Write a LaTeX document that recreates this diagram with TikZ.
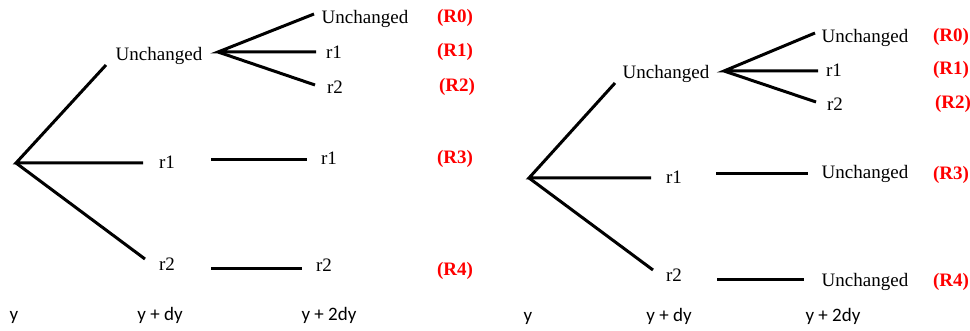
\documentclass[tikz,border=0pt]{standalone}
\usepackage{fontspec}
\setmainfont{Liberation Serif}
\newfontfamily\axisfont{Carlito}
\usetikzlibrary{positioning}
\definecolor{tagred}{RGB}{255,0,0}
\tikzset{
    branch/.style={line width=3pt},
    lbl/.style={anchor=base, inner sep=0pt, font=\fontsize{19}{22}\selectfont},
    tag/.style={anchor=base, inner sep=0pt, text=tagred, font=\fontsize{19}{22}\selectfont\bfseries},
    axis/.style={anchor=base, inner sep=0pt, font=\axisfont\fontsize{19}{22}\selectfont}
}
\begin{document}
\begin{tikzpicture}[x=1pt, y=-1pt]
    \useasboundingbox (0,0) rectangle (970,331);

    % left tree
    \coordinate (Lroot) at (16,163);
    \coordinate (LuIn) at (106,65);
    \coordinate (LaIn) at (143,163);
    \coordinate (LbIn) at (145,259);
    \coordinate (Lfork) at (218,52);
    \coordinate (LuuEnd) at (314,14);
    \coordinate (LuaEnd) at (316,52);
    \coordinate (LubEnd) at (315,85);
    \coordinate (LaOut) at (211,160);
    \coordinate (LaaEnd) at (307,160);
    \coordinate (LbOut) at (211,269);
    \coordinate (LbbEnd) at (302,269);

    \node[lbl] (Lu) at (159,61) {Unchanged};
    \node[lbl] (La) at (167,169) {r1};
    \node[lbl] (Lb) at (167,271) {r2};
    \node[lbl] (Luu) at (365,24) {Unchanged};
    \node[lbl] (Lua) at (334,59) {r1};
    \node[lbl] (Lub) at (335,94) {r2};
    \node[lbl] (Laa) at (329,165) {r1};
    \node[lbl] (Lbb) at (324,272) {r2};

    \draw[branch] (LuIn) -- (Lroot) -- (LaIn);
    \draw[branch] (Lroot) -- (LbIn);
    \draw[branch] (LuuEnd) -- (Lfork) -- (LuaEnd);
    \draw[branch] (Lfork) -- (LubEnd);
    \draw[branch] (LaOut) -- (LaaEnd);
    \draw[branch] (LbOut) -- (LbbEnd);

    \foreach \t/\x/\y in {0/455/23, 1/455/57, 2/457/92, 3/455/164, 4/455/276}
        \node[tag] (LR\t) at (\x,\y) {(R\t)};

    \node[axis] (Lt0) at (14,321) {y};
    \node[axis] (Lt1) at (160,321) {y + dy};
    \node[axis] (Lt2) at (329,321) {y + 2dy};

    % right tree
    \coordinate (Rroot) at (529,178);
    \coordinate (RuIn) at (615,83);
    \coordinate (RaIn) at (651,178);
    \coordinate (RbIn) at (653,270);
    \coordinate (Rfork) at (724,71);
    \coordinate (RuuEnd) at (815,33);
    \coordinate (RuaEnd) at (818,71);
    \coordinate (RubEnd) at (816,102);
    \coordinate (RaOut) at (716,174);
    \coordinate (RaaEnd) at (808,174);
    \coordinate (RbOut) at (717,280);
    \coordinate (RbbEnd) at (804,280);

    \node[lbl] (Ru) at (666,79) {Unchanged};
    \node[lbl] (Ra) at (674,184) {r1};
    \node[lbl] (Rb) at (674,282) {r2};
    \node[lbl] (Ruu) at (865,43) {Unchanged};
    \node[lbl] (Rua) at (834,77) {r1};
    \node[lbl] (Rub) at (835,111) {r2};
    \node[lbl] (Raa) at (865,179) {Unchanged};
    \node[lbl] (Rbb) at (865,287) {Unchanged};

    \draw[branch] (RuIn) -- (Rroot) -- (RaIn);
    \draw[branch] (Rroot) -- (RbIn);
    \draw[branch] (RuuEnd) -- (Rfork) -- (RuaEnd);
    \draw[branch] (Rfork) -- (RubEnd);
    \draw[branch] (RaOut) -- (RaaEnd);
    \draw[branch] (RbOut) -- (RbbEnd);

    \foreach \t/\x/\y in {0/951/42, 1/951/75, 2/953/109, 3/951/180, 4/951/287}
        \node[tag] (RR\t) at (\x,\y) {(R\t)};

    \node[axis] (Rt0) at (528,322) {y};
    \node[axis] (Rt1) at (669,322) {y + dy};
    \node[axis] (Rt2) at (833,322) {y + 2dy};
\end{tikzpicture}
\end{document}
